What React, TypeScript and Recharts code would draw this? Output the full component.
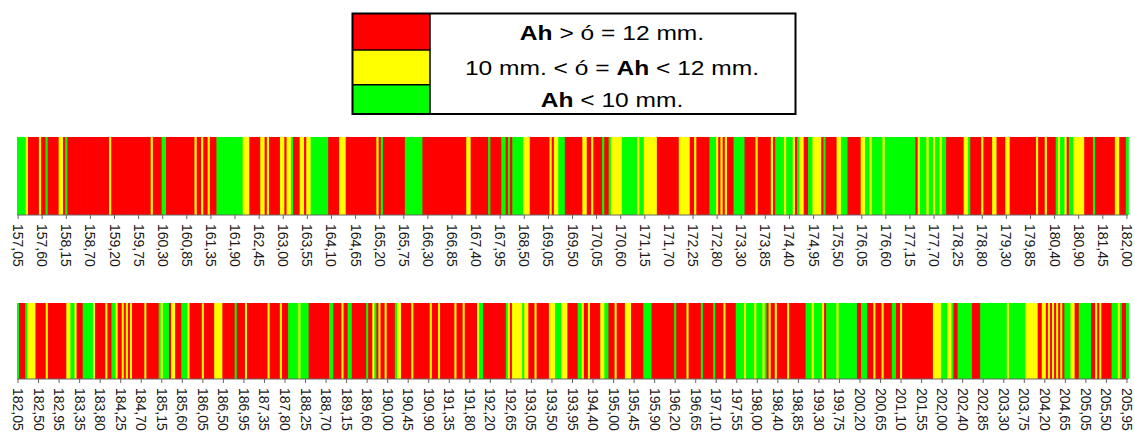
import React from 'react';
import { BarChart, Bar, XAxis, YAxis } from 'recharts';

// Class of each measured position: R = Ah >= 12 mm, Y = 10..12 mm, G = Ah < 10 mm
// Run-length encoded sequences (class letter + number of consecutive positions)
const topRuns =
  'G4 Y1 R5 Y1 R2 G1 R5 Y2 R1 G1 R19 Y1 R18 Y1 R4 G2 R13 Y1 R2 Y1 R2 Y1 R3 G12 Y3 R5 Y2 R1 Y1 R5 Y2 R1 Y2 G1 R3 Y2 R1 Y2 G8 R5 Y3 R14 Y1 R1 G1 R10 G8 R20 Y2 R8 G1 R5 G2 R1 G1 R1 G5 Y3 R9 Y1 R1 Y2 G3 R8 Y2 R2 Y1 R4 G1 R2 G1 Y5 G7 Y1 G2 Y6 R10 Y5 R2 Y1 R6 G3 Y1 R1 Y1 R1 Y1 R3 G5 R5 Y1 R6 Y1 R1 G4 Y1 G3 Y1 R1 G1 Y2 R2 G2 Y4 R1 G1 R5 Y2 G3 R6 Y2 G2 Y1 G5 Y1 G14 R1 Y1 G3 Y1 G2 Y1 G2 Y1 G2 R8 Y2 G1 R5 Y1 R4 Y2 R4 Y2 R12 Y1 R3 Y1 R4 G1 Y1 G2 Y1 R1 G2 Y5 R4 G1 R9 Y2 R3 G1';

const bottomRuns =
  'G1 R3 G1 Y4 R5 Y1 R9 Y2 G2 Y1 R3 G5 Y1 R5 Y1 R2 G2 Y1 R2 Y1 R1 Y1 R1 Y1 R6 Y1 R6 G1 Y1 G3 R1 Y2 R3 G3 Y1 R6 Y1 R5 Y4 R6 G1 R4 Y1 R10 Y1 R5 Y1 R3 G5 Y1 G4 R10 G2 R4 Y1 R2 G2 R7 G1 R2 Y1 G1 R1 Y1 R2 Y1 R4 G1 Y2 R5 Y1 R8 Y1 R3 Y1 R7 Y1 R3 Y1 R6 Y1 G2 R11 G1 Y1 R1 Y5 G1 Y2 R3 Y1 R6 Y3 G3 Y3 R5 G2 Y1 R2 Y1 R5 Y2 G2 R3 Y1 R4 Y3 R6 G4 R11 G1 R5 Y1 R6 G1 R5 G1 R4 Y1 R5 G4 Y1 G4 Y1 G3 Y1 G1 R1 Y1 R2 Y1 R5 Y1 R8 G3 Y1 G4 Y1 R1 G5 Y1 G9 R2 G3 R3 Y1 R3 Y1 R4 G2 R2 Y1 R15 Y4 G3 Y2 G1 R2 G7 R4 G13 Y1 G8 Y6 R2 Y2 R1 Y1 R1 Y1 R1 Y1 R1 Y1 R1 G3 Y2 R2 G6 R2 Y1 R1 Y1 R5 G3 Y1 G1 R2 G1';

const topTickLabels = [
  '157,05', '157,60', '158,15', '158,70', '159,20', '159,75', '160,30', '160,85', '161,35', '161,90',
  '162,45', '163,00', '163,55', '164,10', '164,65', '165,20', '165,75', '166,30', '166,85', '167,40',
  '167,95', '168,50', '169,05', '169,50', '170,05', '170,60', '171,15', '171,70', '172,25', '172,80',
  '173,30', '173,85', '174,40', '174,95', '175,50', '176,05', '176,60', '177,15', '177,70', '178,25',
  '178,80', '179,30', '179,85', '180,40', '180,90', '181,45', '182,00',
];

const bottomTickLabels = [
  '182,05', '182,50', '182,95', '183,35', '183,80', '184,25', '184,70', '185,15', '185,60', '186,05',
  '186,50', '186,95', '187,35', '187,80', '188,25', '188,70', '189,15', '189,60', '190,00', '190,45',
  '190,90', '191,35', '191,80', '192,20', '192,65', '193,05', '193,50', '193,95', '194,40', '195,00',
  '195,45', '195,90', '196,20', '196,65', '197,10', '197,55', '198,00', '198,40', '198,85', '199,30',
  '199,75', '200,20', '200,65', '201,10', '201,55', '202,00', '202,40', '202,85', '203,30', '203,75',
  '204,20', '204,65', '205,05', '205,50', '205,95',
];

const TOP_TICK_STEP = 11;
const BOTTOM_TICK_STEP = 10;

const legendLabels = ['red', 'yellow', 'green'];
const CLASS_COLORS: Record<string, string> = { R: '#FF0000', Y: '#FFFF00', G: '#00FF00' };

type Datum = { i: number; v: number; c: string };

function decodeRuns(runs: string): Datum[] {
  const out: Datum[] = [];
  runs
    .trim()
    .split(/\s+/)
    .forEach((tok) => {
      const c = tok[0];
      const n = parseInt(tok.slice(1), 10);
      for (let k = 0; k < n; k++) out.push({ i: out.length, v: 1, c });
    });
  return out;
}

const topData = decodeRuns(topRuns);
const bottomData = decodeRuns(bottomRuns);

const FONT = '"Liberation Sans", Arial, Helvetica, sans-serif';

const makeTick = (labels: string[], step: number) => (props: any) => {
  const { x, y, payload } = props;
  const idx = Number(payload.value);
  if (idx % step !== 0) return <g />;
  const label = labels[idx / step];
  if (!label) return <g />;
  const ty = y + 3;
  return (
    <text
      x={x}
      y={ty}
      transform={`rotate(90 ${x} ${ty})`}
      textAnchor="start"
      dominantBaseline="central"
      fontFamily={FONT}
      fontSize={14}
      fill="#1a1a1a"
    >
      {label}
    </text>
  );
};

// Each bar is drawn slightly wider than its band so adjacent bars overlap (no seams)
const StripBar = (props: any) => {
  const { x, y, width, height, payload } = props;
  return <rect x={x} y={y} width={width + 1} height={height} fill={CLASS_COLORS[payload.c]} />;
};

function Strip({ data, labels, step, plotHeight }: { data: Datum[]; labels: string[]; step: number; plotHeight: number }) {
  return (
    <BarChart
      width={1135}
      height={plotHeight + 62}
      data={data}
      margin={{ top: 0, right: 7, left: 17, bottom: 0 }}
      barCategoryGap={0}
      barGap={0}
    >
      <XAxis
        dataKey="i"
        type="category"
        interval={step - 1}
        height={62}
        tickSize={4}
        tickLine={{ stroke: '#666' }}
        axisLine={{ stroke: '#666' }}
        tick={makeTick(labels, step)}
      />
      <YAxis hide domain={[0, 1]} />
      <Bar dataKey="v" isAnimationActive={false} shape={StripBar} />
    </BarChart>
  );
}

function Legend() {
  const swatchColors = [CLASS_COLORS.R, CLASS_COLORS.Y, CLASS_COLORS.G];
  const rows = [
    { y0: 14, y1: 50 },
    { y0: 50, y1: 85 },
    { y0: 85, y1: 114 },
  ];
  const cx = 612;
  const sx = 1.26;
  return (
    <svg width={1135} height={125} style={{ position: 'absolute', left: 0, top: 0 }}>
      {rows.map((r, k) => (
        <rect key={legendLabels[k]} x={353} y={r.y0} width={77} height={r.y1 - r.y0} fill={swatchColors[k]} />
      ))}
      <line x1={353} y1={50} x2={430} y2={50} stroke="#000" strokeWidth={1.5} />
      <line x1={353} y1={84.7} x2={430} y2={84.7} stroke="#000" strokeWidth={1.5} />
      <line x1={430} y1={14} x2={430} y2={114} stroke="#000" strokeWidth={1.5} />
      <rect x={352.5} y={13.5} width={443} height={100.5} fill="none" stroke="#000" strokeWidth={2} />
      <g transform={`translate(${cx} 40) scale(${sx} 1)`}>
        <text x={0} y={0} textAnchor="middle" fontFamily={FONT} fontSize={19.5} fill="#000">
          <tspan fontWeight="bold">Ah</tspan>
          <tspan> &gt; ó = 12 mm.</tspan>
        </text>
      </g>
      <g transform={`translate(${cx} 75) scale(${sx} 1)`}>
        <text x={0} y={0} textAnchor="middle" fontFamily={FONT} fontSize={19.5} fill="#000">
          <tspan>10 mm. &lt; ó = </tspan>
          <tspan fontWeight="bold">Ah</tspan>
          <tspan> &lt; 12 mm.</tspan>
        </text>
      </g>
      <g transform={`translate(${cx} 107) scale(${sx} 1)`}>
        <text x={0} y={0} textAnchor="middle" fontFamily={FONT} fontSize={19.5} fill="#000">
          <tspan fontWeight="bold">Ah</tspan>
          <tspan> &lt; 10 mm.</tspan>
        </text>
      </g>
    </svg>
  );
}

export default function App() {
  return (
    <div
      style={{
        position: 'absolute',
        left: 0,
        top: 0,
        width: 1135,
        height: 432,
        background: '#fff',
        overflow: 'hidden',
      }}
    >
      <Legend />
      <div style={{ position: 'absolute', left: 0, top: 137 }}>
        <Strip data={topData} labels={topTickLabels} step={TOP_TICK_STEP} plotHeight={78} />
      </div>
      <div style={{ position: 'absolute', left: 0, top: 303 }}>
        <Strip data={bottomData} labels={bottomTickLabels} step={BOTTOM_TICK_STEP} plotHeight={76} />
      </div>
    </div>
  );
}
